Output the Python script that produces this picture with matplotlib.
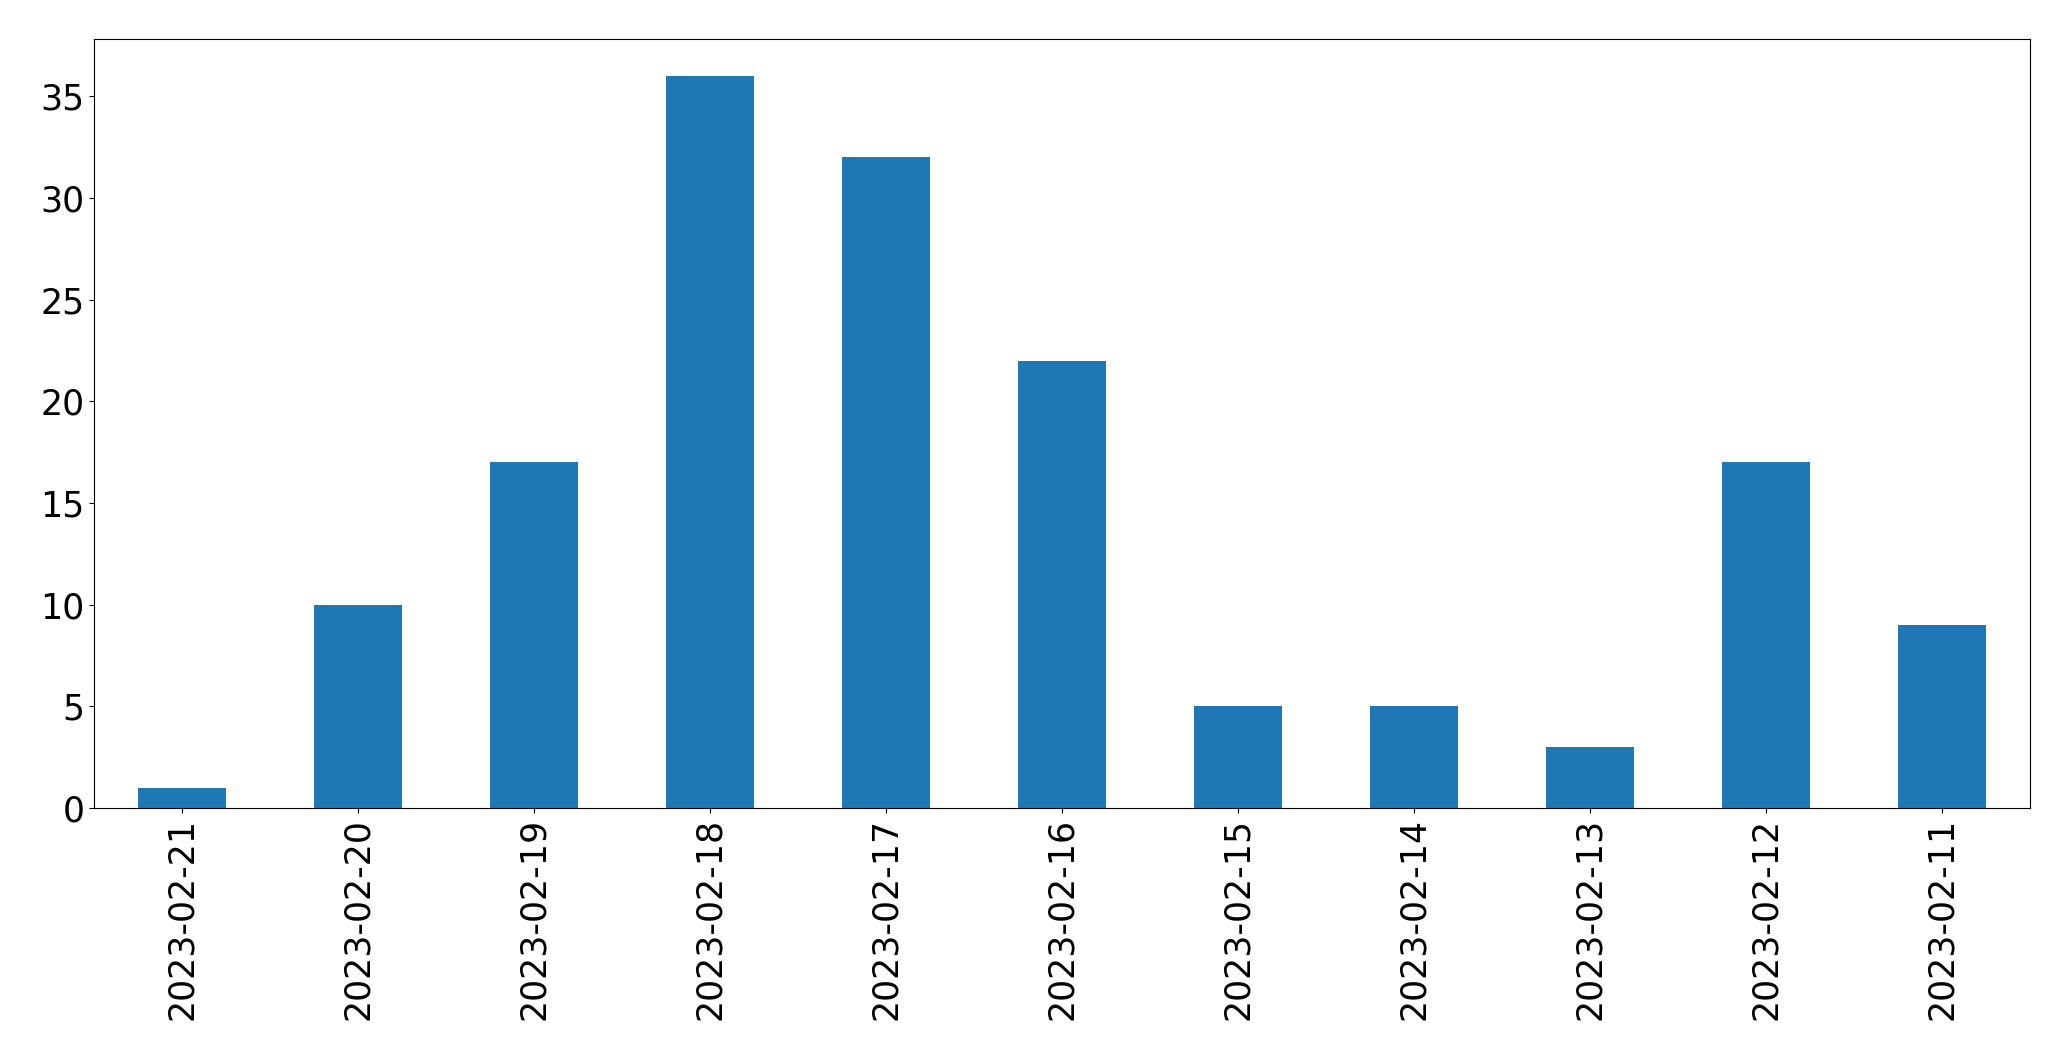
import matplotlib
matplotlib.use("Agg")
import matplotlib.pyplot as plt

dates = ["2023-02-21", "2023-02-20", "2023-02-19", "2023-02-18", "2023-02-17",
         "2023-02-16", "2023-02-15", "2023-02-14", "2023-02-13", "2023-02-12",
         "2023-02-11"]
counts = [1, 10, 17, 36, 32, 22, 5, 5, 3, 17, 9]

fig = plt.figure(figsize=(20.71, 10.61), dpi=100)
ax = fig.add_axes([0.0454, 0.2385, 0.9346, 0.7245])
x = range(len(dates))
ax.bar(x, counts, width=0.5, color="#1f77b4")
ax.set_xticks(list(x))
ax.set_xticklabels(dates, rotation=90)
ax.set_xlim(-0.5, len(dates) - 0.5)
ax.set_ylim(0, 37.8)
ax.tick_params(labelsize=25)
fig.savefig("out.png", dpi=100)
